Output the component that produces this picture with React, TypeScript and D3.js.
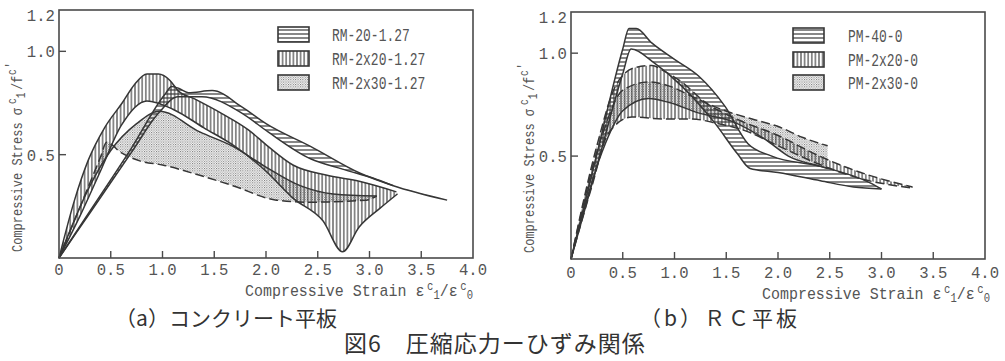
import React from 'react'
import * as d3 from 'd3'

type Pt = [number, number]

// ---- data (a) concrete plate ----
const RM20_UP: Pt[] = [[0, 0], [0.3, 0.228], [0.7, 0.532], [1.02, 0.79], [1.09, 0.83], [1.16, 0.82], [1.25, 0.8], [1.48, 0.81], [1.77, 0.73], [2.0, 0.65], [2.43, 0.54], [2.91, 0.41], [3.23, 0.35], [3.75, 0.28]]
const RM20_LO: Pt[] = [[0, 0], [0.3, 0.219], [0.7, 0.511], [0.96, 0.7], [1.15, 0.78], [1.38, 0.78], [1.77, 0.7], [2.02, 0.61], [2.43, 0.48], [2.74, 0.43], [3.07, 0.38], [3.23, 0.35]]
const RM2x20_UP: Pt[] = [[0, 0], [0.15, 0.28], [0.28, 0.47], [0.44, 0.63], [0.61, 0.75], [0.73, 0.84], [0.85, 0.89], [0.96, 0.89], [1.07, 0.86], [1.15, 0.81], [1.31, 0.77], [1.57, 0.7], [1.83, 0.62], [2.02, 0.54], [2.26, 0.45], [2.59, 0.4], [2.91, 0.37], [3.26, 0.32]]
const RM2x20_LO: Pt[] = [[0, 0], [0.2, 0.2], [0.4, 0.42], [0.6, 0.64], [0.85, 0.76], [1.1, 0.72], [1.4, 0.63], [1.7, 0.54], [2.0, 0.42], [2.26, 0.29], [2.55, 0.18], [2.74, 0.03], [2.9, 0.15], [3.1, 0.24], [3.27, 0.31]]
const RM2x30_UP: Pt[] = [[0, 0], [0.3, 0.35], [0.5, 0.52], [0.75, 0.65], [0.97, 0.71], [1.36, 0.61], [1.68, 0.54], [2.0, 0.44], [2.33, 0.35], [2.65, 0.31], [3.07, 0.3]]
const RM2x30_LO: Pt[] = [[0, 0], [0.2, 0.243], [0.4, 0.487], [0.46, 0.56], [0.6, 0.51], [0.78, 0.47], [1.0, 0.45], [1.36, 0.4], [1.68, 0.35], [2.1, 0.28], [2.42, 0.27], [2.97, 0.28], [3.07, 0.3]]

// ---- data (b) RC plate ----
const PM40_UP: Pt[] = [[0, 0], [0.25, 0.51], [0.5, 1.02], [0.56, 1.12], [0.63, 1.12], [0.78, 1.05], [1.0, 0.97], [1.23, 0.89], [1.49, 0.74], [1.71, 0.56], [1.94, 0.5], [2.41, 0.45], [2.89, 0.37], [3.0, 0.34]]
const PM40_LO: Pt[] = [[0, 0], [0.25, 0.45], [0.5, 0.9], [0.58, 1.02], [0.81, 0.95], [1.07, 0.84], [1.39, 0.66], [1.61, 0.51], [1.73, 0.44], [2.0, 0.42], [2.41, 0.38], [2.73, 0.35], [3.0, 0.34]]
const PM2x20_UP: Pt[] = [[0, 0], [0.25, 0.55], [0.43, 0.84], [0.62, 0.93], [0.78, 0.94], [0.91, 0.91], [1.07, 0.86], [1.3, 0.76], [1.6, 0.68], [2.0, 0.6], [2.4, 0.5], [2.8, 0.42], [3.3, 0.35]]
const PM2x20_LO: Pt[] = [[0, 0], [0.2, 0.35], [0.36, 0.61], [0.59, 0.69], [0.91, 0.68], [1.17, 0.68], [1.4, 0.66], [1.7, 0.62], [2.0, 0.55], [2.4, 0.46], [2.8, 0.39], [3.3, 0.345]]
const PM2x30_UP: Pt[] = [[0, 0], [0.3, 0.6], [0.5, 0.82], [0.75, 0.86], [0.95, 0.84], [1.17, 0.79], [1.49, 0.72], [1.75, 0.68], [2.02, 0.64], [2.24, 0.59], [2.48, 0.55]]
const PM2x30_LO: Pt[] = [[0, 0], [0.3, 0.52], [0.5, 0.72], [0.75, 0.78], [0.95, 0.76], [1.23, 0.71], [1.55, 0.67], [1.88, 0.58], [2.1, 0.5], [2.41, 0.45], [2.48, 0.44]]

const LEGEND_A = ['RM-20-1.27', 'RM-2x20-1.27', 'RM-2x30-1.27']
const LEGEND_B = ['PM-40-0', 'PM-2x20-0', 'PM-2x30-0']
const X_TICKS = [0, 0.5, 1.0, 1.5, 2.0, 2.5, 3.0, 3.5, 4.0]
const Y_TICKS = [0.5, 1.0, 1.2]

const INK = '#363636'
const TXT = '#555'
const MONO = '"Liberation Mono", "DejaVu Sans Mono", monospace'

interface Band {
  up: Pt[]
  lo: Pt[]
  pat: 'h' | 'v' | 'd'
  dashLo?: boolean
  dashUp?: boolean
}

interface PanelProps {
  id: string
  x0: number
  x1: number
  yTop: number
  yBot: number
  bands: Band[]
  legend: string[]
  legX: number
  legY: number[]
  labX: number
  yTitleX: number
  xTitleRight: number
  xTitleY: number
  tickY: number
}

function Panel(p: PanelProps) {
  const x = d3.scaleLinear().domain([0, 4]).range([p.x0, p.x1])
  const y = d3.scaleLinear().domain([0, 1.2]).range([p.yBot, p.yTop])
  const line = d3
    .line<Pt>()
    .x(d => x(d[0]))
    .y(d => y(d[1]))
    .curve(d3.curveMonotoneX)
  const pats = ['h', 'v', 'd']

  return (
    <g>
      <defs>
        <pattern id={p.id + '-h'} width={6} height={4} patternUnits="userSpaceOnUse">
          <line x1={0} y1={2} x2={6} y2={2} stroke={INK} strokeWidth={1.2} />
        </pattern>
        <pattern id={p.id + '-v'} width={3.6} height={6} patternUnits="userSpaceOnUse">
          <line x1={1.8} y1={0} x2={1.8} y2={6} stroke={INK} strokeWidth={1.1} />
        </pattern>
        <pattern id={p.id + '-d'} width={2.4} height={2.4} patternUnits="userSpaceOnUse">
          <rect x={0} y={0} width={1} height={1} fill="#666" />
          <rect x={1.2} y={1.2} width={1} height={1} fill="#888" />
        </pattern>
      </defs>

      {/* bands */}
      {p.bands.map((b, i) => {
        const d = line(b.up) + (line([...b.lo].reverse()) || '').replace(/^M/, 'L') + 'Z'
        return (
          <g key={i}>
            <path d={d} fill={`url(#${p.id}-${b.pat})`} stroke="none" />
            <path d={line(b.up) || ''} fill="none" stroke={INK} strokeWidth={1.5} strokeDasharray={b.dashUp ? '9 4' : undefined} />
            <path d={line(b.lo) || ''} fill="none" stroke={INK} strokeWidth={1.5} strokeDasharray={b.dashLo ? '9 4' : undefined} />
          </g>
        )
      })}

      {/* frame */}
      <rect x={p.x0} y={p.yTop} width={p.x1 - p.x0} height={p.yBot - p.yTop} fill="none" stroke="#4a4a4a" strokeWidth={1.6} />

      {/* ticks */}
      {X_TICKS.filter(t => t > 0 && t < 4).map(t => (
        <line key={'xt' + t} x1={x(t)} x2={x(t)} y1={p.yBot} y2={p.yBot - 7} stroke="#4a4a4a" strokeWidth={1.4} />
      ))}
      {Y_TICKS.filter(t => t < 1.2).map(t => (
        <line key={'yt' + t} x1={p.x0} x2={p.x0 + 7} y1={y(t)} y2={y(t)} stroke="#4a4a4a" strokeWidth={1.4} />
      ))}

      {/* tick labels */}
      <g fontFamily={MONO} fontSize={17} fill={TXT}>
        {X_TICKS.map(t => (
          <text key={'xl' + t} transform={`translate(${x(t)},${p.tickY}) scale(0.92,1)`} textAnchor="middle" dy="0.35em">
            {t === 0 ? '0' : t.toFixed(1)}
          </text>
        ))}
        {Y_TICKS.map(t => (
          <text key={'yl' + t} transform={`translate(${p.x0 - 4},${t === 1.2 ? y(t) + 5 : y(t)}) scale(0.92,1)`} textAnchor="end" dy="0.35em">
            {t.toFixed(1)}
          </text>
        ))}
      </g>

      {/* axis titles */}
      <text transform={`translate(${p.xTitleRight},${p.xTitleY}) scale(0.88,1)`} textAnchor="end" fontFamily={MONO} fontSize={17} fill={TXT}>
        Compressive Strain  ε
        <tspan dx={3} dy={-6} fontSize={12}>c</tspan>
        <tspan dy={9} fontSize={12}>1</tspan>
        <tspan dy={-3}>/ε</tspan>
        <tspan dx={3} dy={-6} fontSize={12}>c</tspan>
        <tspan dy={9} fontSize={12}>0</tspan>
      </text>
      <text transform={`translate(${p.yTitleX},${p.yBot - 6}) rotate(-90) scale(0.8,1)`} fontFamily={MONO} fontSize={15} fill={TXT} dy="0.35em">
        Compressive Stress σ
        <tspan dx={5} dy={-6} fontSize={12}>c</tspan>
        <tspan dy={9} fontSize={12}>1</tspan>
        <tspan dx={3} dy={-3}>/f</tspan>
        <tspan dx={1} dy={-6} fontSize={12}>c</tspan>
        <tspan dx={1} dy={-2} fontSize={12}>'</tspan>
      </text>

      {/* legend */}
      {p.legend.map((lab, i) => (
        <g key={lab}>
          <rect x={p.legX} y={p.legY[i]} width={31} height={15} fill={`url(#${p.id}-${pats[i]})`} stroke={INK} strokeWidth={1.6} />
          <text transform={`translate(${p.labX},${p.legY[i] + 8}) scale(0.72,1)`} dy="0.36em" fontFamily={MONO} fontSize={18} fill={TXT}>
            {lab}
          </text>
        </g>
      ))}
    </g>
  )
}

export default function App() {
  const bandsA: Band[] = [
    {up: RM2x30_UP, lo: RM2x30_LO, pat: 'd', dashLo: true},
    {up: RM2x20_UP, lo: RM2x20_LO, pat: 'v'},
    {up: RM20_UP, lo: RM20_LO, pat: 'h'},
  ]
  const bandsB: Band[] = [
    {up: PM2x30_UP, lo: PM2x30_LO, pat: 'd', dashUp: true},
    {up: PM2x20_UP, lo: PM2x20_LO, pat: 'v', dashLo: true, dashUp: true},
    {up: PM40_UP, lo: PM40_LO, pat: 'h'},
  ]
  return (
    <svg width={1005} height={361} style={{position: 'absolute', left: 0, top: 0, background: '#fff'}}>
      <Panel
        id="pa"
        x0={59}
        x1={473}
        yTop={10}
        yBot={258}
        bands={bandsA}
        legend={LEGEND_A}
        legX={278}
        legY={[27, 51, 75]}
        labX={332}
        yTitleX={17}
        xTitleRight={473}
        xTitleY={296}
        tickY={269}
      />
      <Panel
        id="pb"
        x0={571}
        x1={985}
        yTop={12}
        yBot={259}
        bands={bandsB}
        legend={LEGEND_B}
        legX={793}
        legY={[28, 52, 75]}
        labX={848}
        yTitleX={529}
        xTitleRight={990}
        xTitleY={299}
        tickY={272}
      />
      <g fontFamily='"Noto Sans CJK JP", sans-serif' fill="#333">
        <text x={226} y={326} textAnchor="middle" fontSize={21}>（a）コンクリート平板</text>
        <text x={720} y={326} textAnchor="middle" fontSize={21} letterSpacing={3}>（b）ＲＣ平板</text>
        <text x={495} y={352} textAnchor="middle" fontSize={23} letterSpacing={1}>図6　圧縮応力ーひずみ関係</text>
      </g>
    </svg>
  )
}
